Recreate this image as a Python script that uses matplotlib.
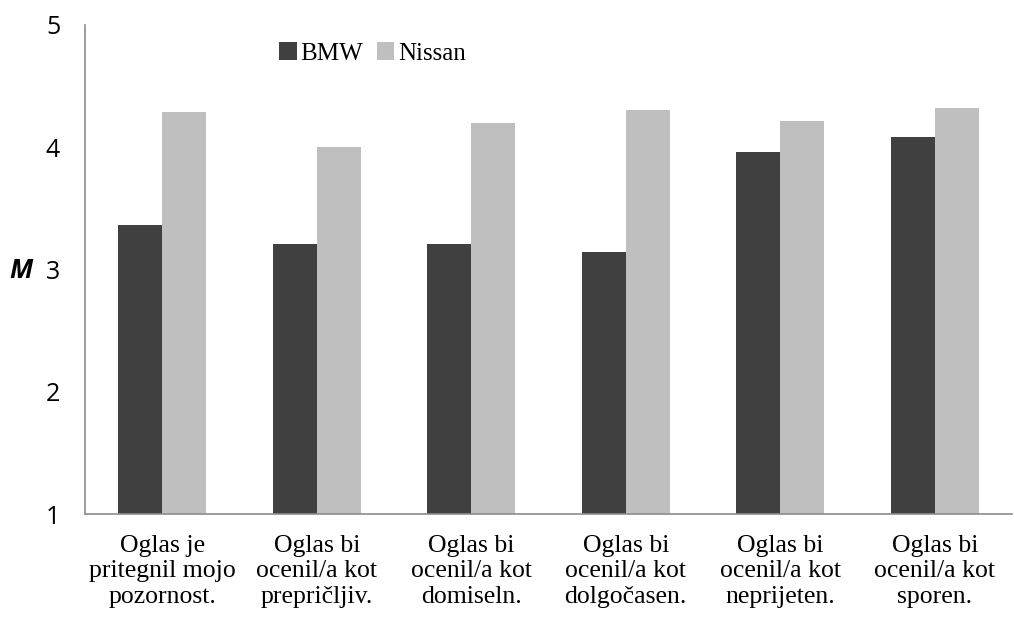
import numpy as np
import matplotlib
matplotlib.use("Agg")
import matplotlib.pyplot as plt

categories = [
    "Oglas je\npritegnil mojo\npozornost.",
    "Oglas bi\nocenil/a kot\nprepričljiv.",
    "Oglas bi\nocenil/a kot\ndomiseln.",
    "Oglas bi\nocenil/a kot\ndolgočasen.",
    "Oglas bi\nocenil/a kot\nneprijeten.",
    "Oglas bi\nocenil/a kot\nsporen.",
]
bmw = [3.36, 3.21, 3.21, 3.14, 3.96, 4.08]
nissan = [4.29, 4.00, 4.20, 4.30, 4.21, 4.32]
y_ticks = [1, 2, 3, 4, 5]

fig = plt.figure(figsize=(10.14, 6.21), dpi=100)
ax = fig.add_axes([0.084, 0.172, 0.914, 0.788])

x = np.arange(len(categories))
w = 0.285
base = 1
ax.bar(x - w / 2, np.array(bmw) - base, w, bottom=base, color="#404040", label="BMW")
ax.bar(x + w / 2, np.array(nissan) - base, w, bottom=base, color="#bfbfbf", label="Nissan")

ax.set_xlim(-0.5, len(categories) - 0.5)
ax.set_ylim(1, 5)
ax.set_yticks(y_ticks)
ax.set_yticklabels([str(t) for t in y_ticks], fontfamily="Open Sans", fontsize=18)
ax.set_xticks(x)
ax.set_xticklabels(categories, fontfamily="Liberation Serif", fontsize=18.5, linespacing=1.2)
ax.tick_params(axis="both", length=0)
ax.tick_params(axis="y", pad=18)
ax.tick_params(axis="x", pad=15)

for s in ["top", "right"]:
    ax.spines[s].set_visible(False)
for s in ["left", "bottom"]:
    ax.spines[s].set_color("#8c8c8c")
    ax.spines[s].set_linewidth(1.2)

fig.text(0.021, 0.565, "M", fontfamily="Open Sans", fontweight="bold", fontstyle="italic",
         fontsize=19, ha="center", va="center")

ax.legend(loc="upper left", bbox_to_anchor=(0.185, 1.01), ncol=2, frameon=False,
          prop={"family": "Liberation Serif", "size": 18}, handlelength=0.7,
          handleheight=0.7, handletextpad=0.15, columnspacing=0.55)

fig.savefig("out.png", dpi=100)
